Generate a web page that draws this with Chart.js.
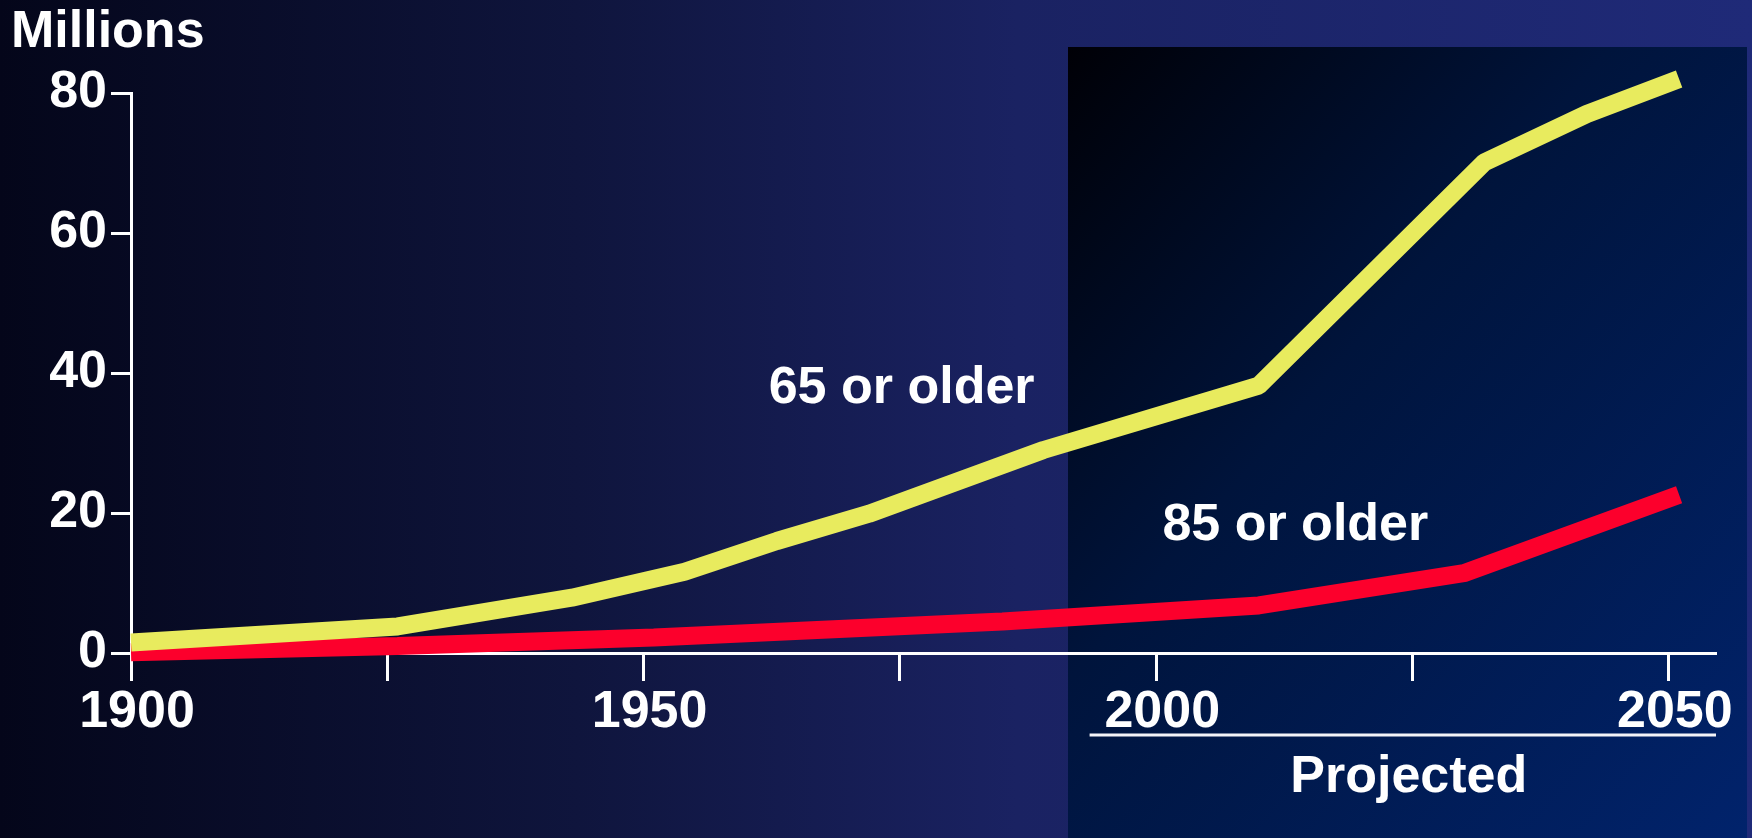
<!DOCTYPE html>
<html>
<head>
<meta charset="utf-8">
<title>Population 65 or older and 85 or older, 1900-2050</title>
<script src="https://cdn.jsdelivr.net/npm/chart.js@4/dist/chart.umd.min.js"></script>
<style>
  html, body { margin: 0; padding: 0; }
  body {
    width: 1752px; height: 838px; overflow: hidden; position: relative;
    background: linear-gradient(to right, #04061a 0%, #0f153d 33%, #1a2262 58%, #1f2a78 100%);
  }
  #projBox {
    position: absolute; left: 1068px; top: 47px; width: 679px; height: 791px;
    background: linear-gradient(to bottom right, #000006 0%, #00143c 40%, #01236c 100%);
  }
  #popChart { position: absolute; left: 0; top: 0; }
</style>
</head>
<body>
<div id="projBox"></div>
<canvas id="popChart" width="1752" height="838"></canvas>
<script>
// ================== DATA ==================
const years65 = [1900, 1926, 1943, 1954, 1963, 1972, 1989, 2010, 2032, 2042, 2051];
const pop65 = [1.5, 3.8, 7.9, 11.6, 16.0, 19.9, 29.0, 38.2, 70.1, 77.0, 82.0];

const years85 = [1900, 1926, 1951, 1985, 2010, 2030, 2051];
const pop85 = [0.1, 1.0, 2.2, 4.5, 6.8, 11.4, 22.6];

const xTickYears = [1900, 1925, 1950, 1975, 2000, 2025, 2050];
const xLabelYears = [1900, 1950, 2000, 2050];
const yTickValues = [0, 20, 40, 60, 80];

const seriesNames = ["65 or older", "85 or older"];
const projectedFrom = 1993.5;

// ================== STYLE ==================
const FONT_FAMILY = '"Liberation Sans", Arial, Helvetica, sans-serif';
const FONT = { family: FONT_FAMILY, size: 52, weight: "bold" };
const YELLOW = "#e8eb5e";
const RED = "#fc002c";

// where the series names sit, in data units
const namePlacement = [
  { year: 1962.2, value: 35.7 },
  { year: 2000.6, value: 16.1 },
];

// ================== HELPERS ==================
function toPoints(xs, ys) {
  return xs.map((x, i) => ({ x, y: ys[i] }));
}

function lineDataset(label, xs, ys, color) {
  return {
    label,
    data: toPoints(xs, ys),
    borderColor: color,
    borderWidth: 18,
    borderJoinStyle: "bevel",
    borderCapStyle: "butt",
    pointRadius: 0,
    tension: 0,
    clip: false,
  };
}

// ================== ANNOTATIONS ==================
const annotations = {
  id: "annotations",
  afterDraw(chart) {
    const { ctx, chartArea, scales } = chart;
    const x = scales.x, y = scales.y;
    ctx.save();
    ctx.fillStyle = "#fff";
    ctx.font = `bold 52px ${FONT_FAMILY}`;
    ctx.textBaseline = "alphabetic";
    ctx.textAlign = "left";

    ctx.fillText("Millions", 11, 47);

    seriesNames.forEach((name, i) => {
      const p = namePlacement[i];
      ctx.fillText(name, x.getPixelForValue(p.year), y.getPixelForValue(p.value));
    });

    // bracket line under the projected years
    const x0 = x.getPixelForValue(projectedFrom);
    const lineY = chartArea.bottom + 82;
    ctx.strokeStyle = "#f4f4f8";
    ctx.lineWidth = 3;
    ctx.beginPath();
    ctx.moveTo(x0, lineY);
    ctx.lineTo(chartArea.right, lineY);
    ctx.stroke();

    ctx.textAlign = "center";
    ctx.fillText("Projected", (x0 + chartArea.right) / 2 + 6, chartArea.bottom + 139);
    ctx.restore();
  },
};

// ================== CHART ==================
const ctx = document.getElementById("popChart").getContext("2d");

new Chart(ctx, {
  type: "line",
  data: {
    datasets: [
      lineDataset(seriesNames[0], years65, pop65, YELLOW),
      lineDataset(seriesNames[1], years85, pop85, RED),
    ],
  },
  options: {
    responsive: false,
    animation: false,
    devicePixelRatio: 1,
    layout: { padding: { left: 0, right: 36, top: 93, bottom: 65 } },
    plugins: {
      legend: { display: false },
      tooltip: { enabled: false },
    },
    scales: {
      x: {
        type: "linear",
        min: 1900,
        max: 2054.6,
        afterFit: (s) => { s.height = 120; },
        afterBuildTicks: (s) => { s.ticks = xTickYears.map((v) => ({ value: v })); },
        border: { color: "#fff", width: 3 },
        grid: {
          drawOnChartArea: false,
          drawTicks: true,
          tickLength: 28,
          tickWidth: 3,
          tickColor: "#fff",
        },
        ticks: {
          color: "#fff",
          font: FONT,
          padding: 0,
          labelOffset: 6,
          maxRotation: 0,
          autoSkip: false,
          callback: (v) => (xLabelYears.includes(v) ? String(v) : ""),
        },
      },
      y: {
        min: 0,
        max: 80,
        afterFit: (s) => { s.width = 131; },
        afterBuildTicks: (s) => { s.ticks = yTickValues.map((v) => ({ value: v })); },
        border: { color: "#fff", width: 3 },
        grid: {
          drawOnChartArea: false,
          drawTicks: true,
          tickLength: 20,
          tickWidth: 3,
          tickColor: "#fff",
        },
        ticks: {
          color: "#fff",
          font: FONT,
          padding: 4,
        },
      },
    },
  },
  plugins: [annotations],
});
</script>
</body>
</html>
